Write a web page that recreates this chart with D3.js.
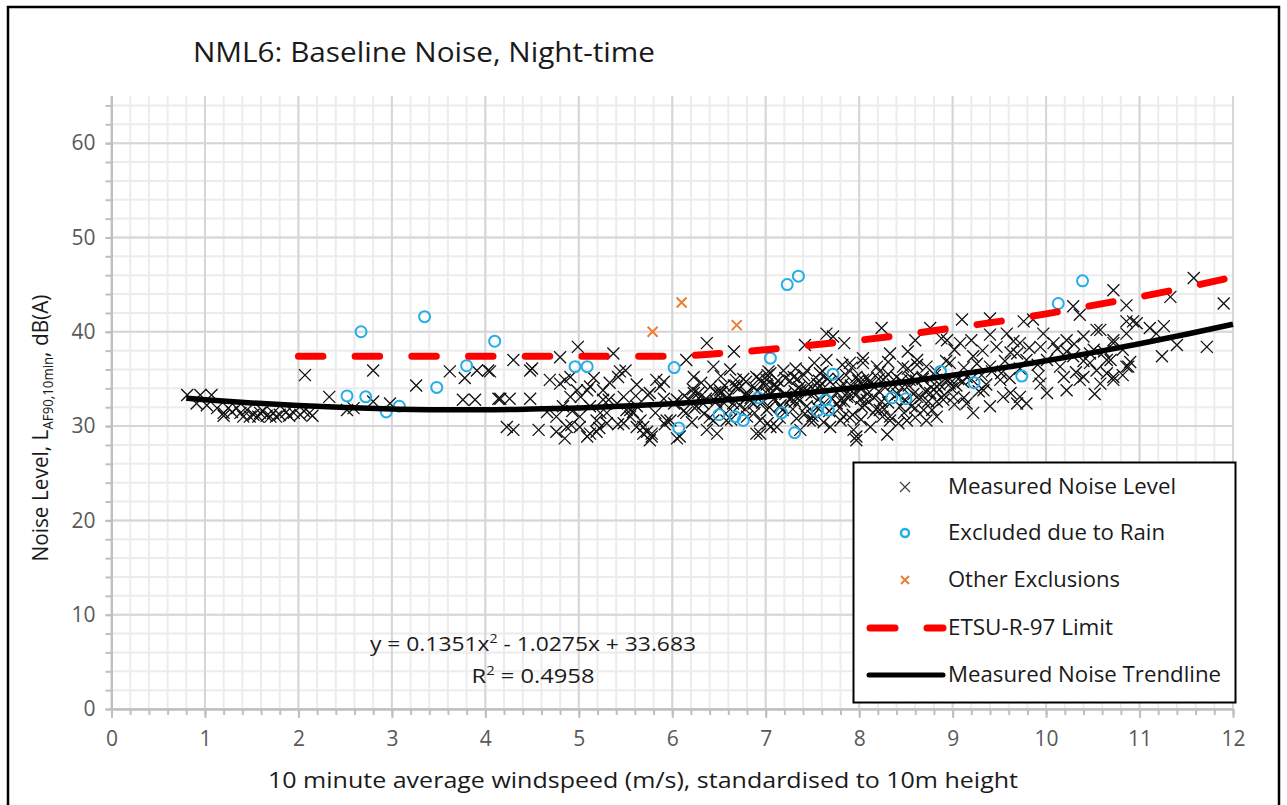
<!DOCTYPE html>
<html><head><meta charset="utf-8">
<script src="https://cdn.jsdelivr.net/npm/d3@7"></script>
<style>
body{margin:0;background:#fff}
svg{display:block}
text{font-family:"Open Sans","Noto Sans",sans-serif}
</style>
</head><body>
<svg id="chart" width="1287" height="805"></svg>
<script>
// ---------------- DATA ----------------
const chartTitle = "NML6: Baseline Noise, Night-time";
const xTickLabels = [0,1,2,3,4,5,6,7,8,9,10,11,12];
const yTickLabels = [0,10,20,30,40,50,60];
const legendLabels = ["Measured Noise Level","Excluded due to Rain","Other Exclusions","ETSU-R-97 Limit","Measured Noise Trendline"];

// Measured noise level (windspeed m/s, dB(A))
const measured = [
[0.81,33.3],[0.95,33.3],[1.07,33.3],[0.91,32.4],[1.02,32.2],[1.13,31.9],[1.2,31.4],[1.29,31.5],[1.38,31.4],[1.45,31.7],[1.52,31.2],[1.59,31.4],[1.66,31.1],[1.73,31.4],[1.8,31.2],[1.95,31.4],[2.02,31.2],[2.12,31.4],[2.07,35.4],[1.34,31.9],[1.41,31.0],[1.7,31.0],[1.87,31.5],[1.2,31.1],[1.48,31.0],[1.57,31.0],[1.76,31.0],[1.9,31.1],[2.06,31.6],[1.25,31.9],[1.62,31.6],[2.15,31.1],
[2.33,33.1],[2.52,31.7],[2.59,31.9],[2.8,35.9],[2.8,32.6],[2.98,32.4],[3.26,34.3],[3.62,35.8],[3.76,32.8],[3.89,32.8],[3.78,35.1],[3.91,35.9],[4.03,35.9],[4.14,32.9],
[4.99,38.4],[5.37,37.7],[4.3,37.0],[4.8,37.3],[4.05,35.8],[4.48,35.9],[4.5,36.1],[5.5,35.9],[5.42,35.2],[5.83,34.9],[4.16,32.9],[4.26,32.9],[4.48,32.9],[4.69,34.9],[4.8,34.5],[4.91,35.2],[4.98,33.8],[5.12,34.2],[5.26,33.8],[5.12,32.1],[5.01,31.0],[5.19,30.6],[5.3,31.4],[5.41,32.4],[5.55,31.7],[5.74,33.3],[5.76,33.5],[5.66,30.6],[5.73,29.4],[5.78,28.9],[5.94,30.6],[4.23,29.9],[4.3,29.6],[4.57,29.6],[4.76,29.4],[4.85,28.7],[5.01,29.9],[5.09,28.9],[5.19,29.4],[5.69,29.9],[5.78,29.2],[4.83,32.1],[4.66,31.5],[4.76,31.0],[5.48,30.3],[5.58,31.5],
[4.85,34.9],[5.16,35.1],[5.44,35.8],[4.91,33.1],[5.09,33.8],[5.26,32.8],[5.48,33.1],[5.62,32.1],[5.87,34.2],[6.05,32.8],[6.23,33.5],[6.33,32.4],[6.51,33.5],[6.69,34.2],[6.8,33.1],[4.87,29.9],[5.12,29.2],[5.3,30.3],[5.69,29.2],[5.76,28.5],[6.08,28.9],[5.98,30.6],[6.48,29.2],[6.58,30.6],[5.55,31.0],
[6.37,38.8],[6.66,37.9],[7.65,39.8],[7.72,39.5],[7.84,38.8],[7.42,38.6],[6.15,37.0],[6.44,36.3],[6.23,35.2],[6.3,33.1],[6.51,33.8],[6.65,32.4],[6.8,33.5],[7.01,34.9],[6.9,29.2],[7.05,29.9],[7.15,32.1],[7.33,33.1],[7.44,33.8],[7.58,35.6],[7.87,33.1],[8.04,34.9],[8.04,36.7],[7.8,30.6],[7.94,29.6],[8.15,31.4],[7.37,29.6],[7.51,30.6],[6.05,28.7],[6.15,31.4],[6.37,29.6],[6.44,30.6],
[8.24,40.4],[8.6,39.1],[8.76,40.4],[8.88,39.3],[7.65,37.0],[7.9,36.7],[8.04,37.2],[8.19,36.3],[8.33,37.7],[8.47,36.3],[8.62,37.0],[8.72,36.3],[6.9,35.2],[7.05,35.6],[7.19,35.9],[7.3,35.2],[7.44,35.9],[7.55,34.5],[6.97,34.5],[7.12,34.2],[7.37,33.8],[7.83,34.5],[7.97,35.2],[8.12,34.5],[8.26,34.9],[8.4,35.2],[8.54,34.9],[8.68,35.2],[8.83,34.2],[8.94,34.9],[6.87,32.4],[7.01,31.7],[7.26,32.8],[7.44,32.1],[7.76,32.4],[7.9,33.1],[8.08,32.8],[8.22,31.7],[8.33,31.0],[8.44,32.1],[8.62,33.1],[8.76,33.5],[8.9,32.8],[6.94,30.6],[7.12,29.9],[6.94,29.2],[7.47,30.6],[7.69,29.9],[7.83,31.0],[7.97,28.9],[8.12,29.9],[8.3,29.1],[8.33,30.6],[8.51,30.6],[8.69,31.7],[8.83,31.0],
[10.72,44.4],[10.86,42.8],[9.1,41.3],[9.76,41.1],[9.86,41.3],[10.29,42.7],[10.36,41.8],[10.86,41.1],[9.97,39.8],[8.94,39.1],[9.08,38.8],[9.4,39.7],[9.47,38.4],[9.58,39.8],[9.72,38.8],[9.94,38.4],[10.08,38.8],[10.22,39.1],[10.4,39.5],[10.54,40.2],[10.72,39.1],[10.86,39.8],[10.97,40.9],[8.97,36.7],[9.22,37.4],[9.4,36.3],[9.69,37.7],[9.79,37.0],[10.01,37.0],[10.15,36.3],[10.29,37.4],[10.47,37.7],[10.65,37.0],[10.86,36.3],[8.97,34.5],[9.15,35.2],[9.33,33.8],[9.51,34.9],[9.72,33.1],[9.79,32.4],[9.94,34.5],[10.01,33.5],[10.19,35.2],[10.36,34.9],[10.54,35.9],[10.72,35.2],[9.15,32.4],[9.22,31.4],[9.4,32.1],[9.54,33.1],[9.69,32.4],[9.01,33.1],[9.4,41.4],
[10.93,41.1],[11.58,45.7],[11.33,43.7],[11.9,43.0],[11.11,40.4],[11.26,40.6],[11.18,39.8],[11.4,38.6],[11.24,37.4],[11.72,38.4],[10.58,40.2],[10.72,38.8],[10.51,38.1],[10.47,36.7],[10.69,37.0],[10.88,36.3],[10.65,35.6],[10.72,34.9],[10.58,34.5],[10.4,35.2],[7.97,28.5],
[6.12,31.6],[6.34,31.3],[6.62,31.8],[6.88,31.4],[7.18,31.7],[7.42,31.3],[7.68,31.6],[7.93,31.2],[8.18,31.8],[8.48,31.4],[8.78,31.7],
[6.02,32.4],[6.26,32.1],[6.47,32.6],[6.72,32.2],[6.96,32.5],[7.16,32.2],[7.36,32.7],[7.61,32.3],[7.84,32.6],[8.06,32.2],[8.31,32.5],[8.56,32.1],[8.74,32.6],[9.02,32.3],
[6.13,33.2],[6.36,32.9],[6.61,33.3],[6.84,33.0],[7.06,33.4],[7.27,33.0],[7.49,33.3],[7.71,32.9],[7.96,33.3],[8.16,33.0],[8.41,33.4],[8.66,33.0],[8.91,33.3],[9.12,33.0],
[6.22,33.9],[6.46,33.6],[6.71,34.0],[6.91,33.7],[7.12,34.1],[7.31,33.7],[7.56,34.0],[7.76,33.6],[8.01,34.0],[8.21,33.7],[8.46,34.1],[8.71,33.7],[8.99,34.0],[9.28,33.7],
[6.31,34.6],[6.56,34.3],[6.79,34.7],[7.01,34.4],[7.26,34.8],[7.46,34.4],[7.69,34.7],[7.91,34.3],[8.11,34.7],[8.36,34.4],[8.61,34.8],[8.86,34.4],[9.11,34.7],[9.36,34.4],
[6.52,35.3],[6.76,35.0],[7.02,35.4],[7.21,35.1],[7.41,35.4],[7.66,35.0],[7.86,35.4],[8.09,35.1],[8.31,35.5],[8.56,35.1],[8.81,35.4],[9.06,35.0],[9.31,35.4],[9.61,35.1],
[6.62,36.0],[7.03,35.8],[7.32,36.1],[7.61,35.8],[7.92,36.2],[8.22,35.8],[8.52,36.1],[8.82,35.8],[9.12,36.2],[9.42,35.8],[9.72,36.1],
[6.21,30.4],[6.63,30.7],[7.02,30.3],[7.33,30.8],[7.62,30.4],[8.02,30.7],[8.42,30.3],[8.72,30.6],
[7.52,36.7],[7.82,36.5],[8.31,36.8],[8.62,36.5],[8.93,36.9],[9.26,36.6],[9.56,36.9],[9.91,36.5],
[8.52,37.9],[9.02,38.1],[9.62,37.8],[10.12,38.2],[10.62,37.9],
[9.52,35.6],[9.92,35.3],[10.32,35.7],[10.82,35.4],[9.32,38.0],[9.82,38.3],[10.22,37.9],[10.82,38.1],[9.62,33.5],[10.22,33.8],[10.52,33.4],
[4.92,30.1],[5.22,29.8],[5.42,30.2],[5.62,29.9],[5.92,30.2],[4.93,31.6],[5.23,31.4],[5.51,31.7],[5.82,31.4],[5.02,33.1],[5.32,32.8],[5.61,33.2],[5.91,32.9],[5.33,34.6],[5.62,34.4],[5.91,34.7],
[6.24,31.9],[6.51,32.0],[6.78,31.8],[7.04,32.0],[7.29,31.8],[7.55,32.0],[7.79,31.9],[8.03,32.0],[8.27,31.8],[8.6,31.9],
[6.18,32.8],[6.58,32.9],[6.83,32.7],[7.09,32.9],[7.31,32.6],[7.57,32.9],[7.8,32.7],[8.02,32.9],[8.24,32.6],[8.49,32.8],[8.83,32.6],
[6.28,33.5],[6.53,33.6],[6.78,33.4],[7.0,33.6],[7.21,33.4],[7.43,33.6],[7.65,33.4],[7.88,33.6],[8.09,33.4],[8.33,33.6],[8.58,33.4],[8.83,33.6],
[6.41,34.2],[6.66,34.3],[6.88,34.1],[7.09,34.3],[7.36,34.1],[7.58,34.3],[7.81,34.1],[8.04,34.3],[8.28,34.1],[8.53,34.3],[8.77,34.1],[9.04,34.3],
[6.68,34.9],[6.93,35.0],[7.13,34.8],[7.34,35.0],[7.57,34.8],[7.78,35.0],[7.99,34.8],[8.21,35.0],[8.45,34.8],[8.68,35.0],[8.95,34.8],[9.2,35.0],
[6.4,30.9],[6.8,31.0],[7.15,30.9],[7.5,31.1],[7.9,30.9],[8.25,31.0],[8.6,30.9],
[9.2,39.1],[9.65,39.0],[10.3,38.7],[10.4,36.9],[10.9,36.8]
];

// Excluded due to rain
const rainExcluded = [
[2.52,33.2],[2.67,40.0],[2.72,33.1],[2.94,31.5],[3.08,32.1],[3.35,41.6],[3.48,34.1],[3.8,36.4],[4.1,39.0],
[4.96,36.3],[5.09,36.3],[6.02,36.2],[6.07,29.8],[6.5,31.2],[6.67,31.0],[6.76,30.6],[6.92,33.0],[7.05,37.2],
[7.17,31.4],[7.31,29.3],[7.23,45.0],[7.35,45.9],[7.72,35.5],[7.64,32.8],[7.55,31.6],[7.67,31.7],
[8.35,33.0],[8.5,32.9],[8.87,35.8],[9.23,34.6],[9.74,35.3],[10.13,43.0],[10.39,45.4]
];

// Other exclusions
const otherExcluded = [[5.79,40.0],[6.1,43.1],[6.69,40.7]];

// ETSU-R-97 limit curve
const etsuLimit = [
[2,37.4],[3,37.4],[4,37.4],[5,37.4],[6,37.4],[6.5,37.7],[7,38.1],[7.5,38.6],[8,39.1],[8.5,39.7],
[9,40.4],[9.5,41.1],[10,41.9],[10.5,42.8],[11,43.7],[11.5,44.7],[12,45.8]
];

// Measured noise trendline (y = 0.1351x² - 1.0275x + 33.683)
const trendline = [
[0.8,32.95],[1,32.79],[1.5,32.45],[2,32.17],[2.5,31.96],[3,31.82],[3.5,31.74],[4,31.73],[4.5,31.80],
[5,31.92],[5.5,32.12],[6,32.38],[6.5,32.71],[7,33.11],[7.5,33.58],[8,34.11],[8.5,34.71],[9,35.38],
[9.5,36.12],[10,36.92],[10.5,37.79],[11,38.73],[11.5,39.73],[12,40.80]
];
const equationText = ["y = 0.1351x", "2", " - 1.0275x + 33.683"];
const r2Text = ["R", "2", " = 0.4958"];

// ---------------- DRAW ----------------
const svg = d3.select("#chart");
const x = d3.scaleLinear().domain([0,12]).range([111.5,1233]);
const y = d3.scaleLinear().domain([0,65]).range([709,96]);

svg.append("rect").attr("x",0).attr("y",0).attr("width",1287).attr("height",805).attr("fill","#fff");

// grid
const xMinor = d3.range(0,61).map(i=>+(i*0.2).toFixed(1));
const yMinor = d3.range(0,33).map(i=>i*2);
const grid = svg.append("g");
grid.selectAll(".vmin").data(xMinor).join("line")
  .attr("x1",d=>x(d)).attr("x2",d=>x(d)).attr("y1",y(0)).attr("y2",y(65))
  .attr("stroke","#ececec").attr("stroke-width",2);
grid.selectAll(".hmin").data(yMinor).join("line")
  .attr("x1",x(0)).attr("x2",x(12)).attr("y1",d=>y(d)).attr("y2",d=>y(d))
  .attr("stroke","#ececec").attr("stroke-width",2);
grid.selectAll(".vmaj").data(xTickLabels).join("line")
  .attr("x1",d=>x(d)).attr("x2",d=>x(d)).attr("y1",y(0)).attr("y2",y(65))
  .attr("stroke","#d6d6d6").attr("stroke-width",2);
grid.selectAll(".hmaj").data(yTickLabels).join("line")
  .attr("x1",x(0)).attr("x2",x(12)).attr("y1",d=>y(d)).attr("y2",d=>y(d))
  .attr("stroke","#d6d6d6").attr("stroke-width",2);

// axes
function styleAxis(g){
  g.select(".domain").attr("stroke","#bfbfbf").attr("stroke-width",2);
  g.selectAll(".tick line").attr("stroke","#bfbfbf").attr("stroke-width",2);
  g.selectAll(".tick text").attr("fill","#595959").attr("font-size",21);
}
const xMinorAxis = svg.append("g").attr("transform",`translate(0,${y(0)})`)
  .call(d3.axisBottom(x).tickValues(xMinor).tickSize(6).tickFormat("").tickSizeOuter(0));
styleAxis(xMinorAxis);
const xAxis = svg.append("g").attr("transform",`translate(0,${y(0)})`)
  .call(d3.axisBottom(x).tickValues(xTickLabels).tickSize(9).tickPadding(13).tickSizeOuter(0));
styleAxis(xAxis);
const yMinorAxis = svg.append("g").attr("transform",`translate(${x(0)},0)`)
  .call(d3.axisLeft(y).tickValues(yMinor).tickSize(6).tickFormat("").tickSizeOuter(0));
styleAxis(yMinorAxis);
const yAxis = svg.append("g").attr("transform",`translate(${x(0)},0)`)
  .call(d3.axisLeft(y).tickValues(yTickLabels).tickSize(6).tickPadding(10).tickSizeOuter(0));
styleAxis(yAxis);

// measured X markers
const xPath = s => `M${-s},${-s}L${s},${s}M${-s},${s}L${s},${-s}`;
svg.append("g").selectAll("path").data(measured).join("path")
  .attr("transform",d=>`translate(${x(d[0])},${y(d[1])})`)
  .attr("d",xPath(6)).attr("fill","none").attr("stroke","#111").attr("stroke-width",1.3);

// rain circles
svg.append("g").selectAll("circle").data(rainExcluded).join("circle")
  .attr("cx",d=>x(d[0])).attr("cy",d=>y(d[1])).attr("r",5.5)
  .attr("fill","none").attr("stroke","#25aee5").attr("stroke-width",2);

// other exclusions
svg.append("g").selectAll("path").data(otherExcluded).join("path")
  .attr("transform",d=>`translate(${x(d[0])},${y(d[1])})`)
  .attr("d",xPath(5)).attr("fill","none").attr("stroke","#ed7d31").attr("stroke-width",2);

// ETSU limit
const line = d3.line().x(d=>x(d[0])).y(d=>y(d[1])).curve(d3.curveMonotoneX);
svg.append("path").datum(etsuLimit).attr("d",line)
  .attr("fill","none").attr("stroke","#ff0000").attr("stroke-width",7)
  .attr("stroke-linecap","round").attr("stroke-dasharray","24.5 32.2");

// trendline
svg.append("path").datum(trendline).attr("d",line)
  .attr("fill","none").attr("stroke","#000").attr("stroke-width",5.5);

// equation
function supText(parts, cx, cy, size, width){
  const t = svg.append("text").attr("x",cx).attr("y",cy).attr("text-anchor","middle")
    .attr("font-size",size).attr("fill","#1a1a1a");
  t.append("tspan").text(parts[0]);
  t.append("tspan").attr("font-size",size*0.62).attr("dy",-size*0.38).text(parts[1]);
  t.append("tspan").attr("dy",size*0.38).text(parts[2]);
  if(width) t.attr("textLength",width).attr("lengthAdjust","spacingAndGlyphs");
  return t;
}
supText(equationText, 533, 651, 20, 326);
supText(r2Text, 533, 683, 20, 123);

// title
svg.append("text").attr("x",424).attr("y",62).attr("text-anchor","middle")
  .attr("font-size",27).attr("fill","#1a1a1a")
  .attr("textLength",462).attr("lengthAdjust","spacingAndGlyphs").text(chartTitle);

// x axis title
svg.append("text").attr("x",643).attr("y",788).attr("text-anchor","middle")
  .attr("font-size",22).attr("fill","#1a1a1a")
  .attr("textLength",750).attr("lengthAdjust","spacingAndGlyphs")
  .text("10 minute average windspeed (m/s), standardised to 10m height");

// y axis title
const yt = svg.append("text").attr("transform","translate(48,428) rotate(-90)")
  .attr("text-anchor","middle").attr("font-size",22).attr("fill","#1a1a1a");
yt.append("tspan").text("Noise Level, L");
yt.append("tspan").attr("font-size",14).attr("dy",5).text("AF90,10min");
yt.append("tspan").attr("dy",-5).text(", dB(A)");
yt.attr("textLength",267).attr("lengthAdjust","spacingAndGlyphs");

// legend
const lg = svg.append("g");
lg.append("rect").attr("x",853.5).attr("y",462.5).attr("width",382).attr("height",240)
  .attr("fill","#fff").attr("stroke","#000").attr("stroke-width",2);
const rowsY = [487,533,580,628,675];
const textW = [228,217,172,165,273];
legendLabels.forEach((lab,i)=>{
  lg.append("text").attr("x",948).attr("y",rowsY[i]).attr("dy","0.35em")
    .attr("font-size",21).attr("fill","#1a1a1a")
    .attr("textLength",textW[i]).attr("lengthAdjust","spacingAndGlyphs").text(lab);
});
lg.append("path").attr("transform",`translate(905,${rowsY[0]})`).attr("d",xPath(5))
  .attr("stroke","#404040").attr("stroke-width",1.2).attr("fill","none");
lg.append("circle").attr("cx",905).attr("cy",rowsY[1]).attr("r",4)
  .attr("fill","none").attr("stroke","#25aee5").attr("stroke-width",2.5);
lg.append("path").attr("transform",`translate(905,${rowsY[2]})`).attr("d",xPath(4))
  .attr("stroke","#ed7d31").attr("stroke-width",2).attr("fill","none");
lg.append("line").attr("x1",870).attr("x2",895).attr("y1",rowsY[3]).attr("y2",rowsY[3])
  .attr("stroke","#ff0000").attr("stroke-width",7).attr("stroke-linecap","round");
lg.append("line").attr("x1",927).attr("x2",943).attr("y1",rowsY[3]).attr("y2",rowsY[3])
  .attr("stroke","#ff0000").attr("stroke-width",7).attr("stroke-linecap","round");
lg.append("line").attr("x1",869).attr("x2",943).attr("y1",rowsY[4]).attr("y2",rowsY[4])
  .attr("stroke","#000").attr("stroke-width",5).attr("stroke-linecap","round");

// outer frame
svg.append("rect").attr("x",8).attr("y",7).attr("width",1271).attr("height",810)
  .attr("fill","none").attr("stroke","#000").attr("stroke-width",2.5);
</script>
</body></html>
